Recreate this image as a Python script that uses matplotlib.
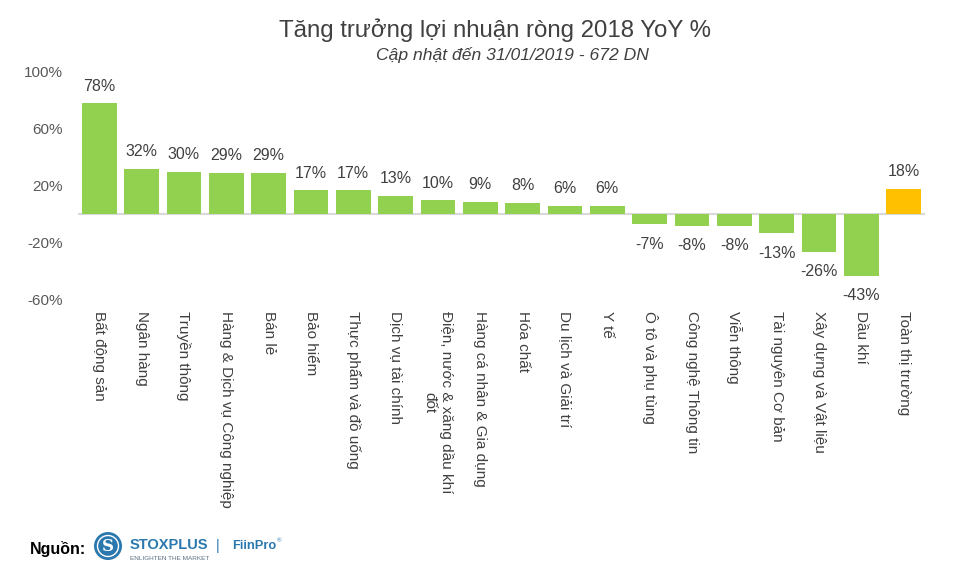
import matplotlib.pyplot as plt
from matplotlib.patches import Ellipse

plt.rcParams['font.family'] = ['Liberation Sans', 'DejaVu Sans']

# data
sectors = ['Bất động sản', 'Ngân hàng', 'Truyền thông', 'Hàng & Dịch vụ Công nghiệp',
           'Bán lẻ', 'Bảo hiểm', 'Thực phẩm và đồ uống', 'Dịch vụ tài chính',
           'Điện, nước & xăng dầu khí\nđốt', 'Hàng cá nhân & Gia dụng', 'Hóa chất',
           'Du lịch và Giải trí', 'Y tế', 'Ô tô và phụ tùng', 'Công nghệ Thông tin',
           'Viễn thông', 'Tài nguyên Cơ bản', 'Xây dựng và Vật liệu', 'Dầu khí',
           'Toàn thị trường']
growth = [78, 32, 30, 29, 29, 17, 17, 13, 10, 9, 8, 6, 6, -7, -8, -8, -13, -26, -43, 18]
yticks = [-60, -20, 20, 60, 100]

colors = ['#92D050'] * (len(sectors) - 1) + ['#FFC000']

fig = plt.figure(figsize=(9.6, 5.88), dpi=100)
ax = fig.add_axes([0.0813, 0.4898, 0.8822, 0.3878])

x = range(len(sectors))
ax.bar(x, growth, width=0.82, color=colors)
ax.axhline(0, color='#D9D9D9', lw=1.5, zorder=0)

for i, v in enumerate(growth):
    if v >= 0:
        ax.annotate(f'{v}%', (i, v), xytext=(0, 7), textcoords='offset points',
                    ha='center', va='bottom', fontsize=11.5, color='#404040')
    else:
        ax.annotate(f'{v}%', (i, v), xytext=(0, -9), textcoords='offset points',
                    ha='center', va='top', fontsize=11.5, color='#404040')

ax.set_xlim(-0.5, len(sectors) - 0.5)
ax.set_ylim(-60, 100)
ax.set_yticks(yticks)
ax.set_yticklabels([f'{t}%' for t in yticks], fontsize=11, color='#595959')
ax.set_xticks(list(x))
ax.set_xticklabels(sectors, rotation=-90, fontsize=11, color='#404040',
                   ha='center', va='top', multialignment='center')
ax.tick_params(axis='both', length=0)
ax.tick_params(axis='y', pad=11)
ax.tick_params(axis='x', pad=8)
for s in ax.spines.values():
    s.set_visible(False)

fig.text(0.5155, 0.948, 'Tăng trưởng lợi nhuận ròng 2018 YoY %', ha='center', va='center',
         fontsize=17.3, color='#404040')
fig.text(0.534, 0.906, 'Cập nhật đến 31/01/2019 - 672 DN', ha='center', va='center',
         fontsize=12.6, color='#404040', style='italic')

# footer / source
fig.text(0.031, 0.066, 'Nguồn:', ha='left', va='center', fontsize=11.5,
         fontweight='bold', color='#000000')
blue = '#2A78AE'
cx, cy = 0.1125, 0.0714
fig.patches.append(Ellipse((cx, cy), 28 / 960, 28 / 588, transform=fig.transFigure,
                           facecolor=blue, edgecolor='none'))
fig.patches.append(Ellipse((cx, cy), 21 / 960, 21 / 588, transform=fig.transFigure,
                           facecolor='none', edgecolor='white', lw=1.0))
fig.text(cx, cy, 'S', ha='center', va='center', fontsize=12,
         fontweight='bold', color='white', family='DejaVu Serif')
fig.text(0.1355, 0.0735, 'STOXPLUS', ha='left', va='center', fontsize=10.5,
         fontweight='bold', color=blue)
fig.text(0.1355, 0.051, 'ENLIGHTEN THE MARKET', ha='left', va='center', fontsize=4.6,
         color='#5A6E80')
fig.text(0.227, 0.0714, '|', ha='center', va='center', fontsize=10, color=blue)
fig.text(0.2415, 0.0714, 'FiinPro', ha='left', va='center', fontsize=9.3,
         fontweight='bold', color=blue)
fig.text(0.2885, 0.080, '®', ha='left', va='center', fontsize=4.5, color=blue)

fig.savefig('out.png', dpi=100)
